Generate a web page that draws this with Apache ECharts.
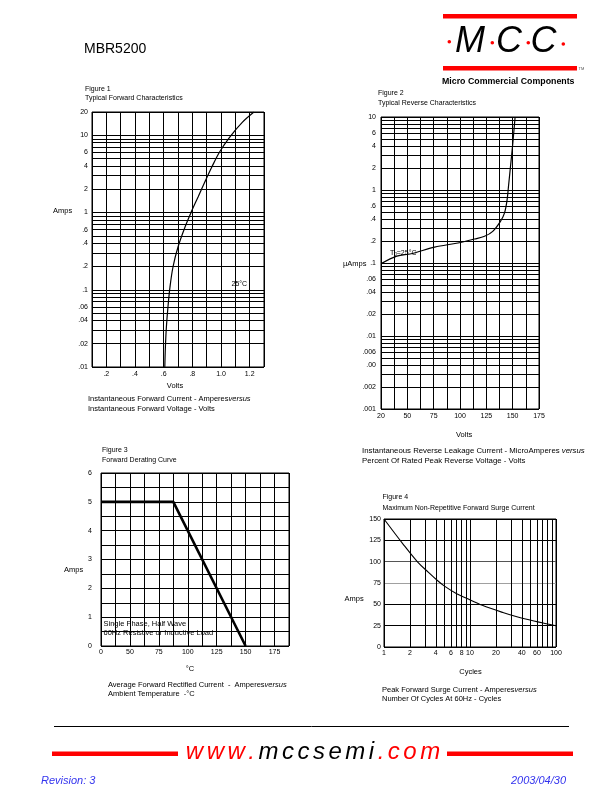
<!DOCTYPE html>
<html><head><meta charset="utf-8">
<script src="https://cdn.jsdelivr.net/npm/echarts@6/dist/echarts.min.js"></script>
<style>html,body{margin:0;padding:0;background:#fff;}#c{width:612px;height:792px;}</style>
</head><body><div id="c"></div>
<script>
// ---------- Figure 1 : Typical Forward Characteristics ----------
const fig1Volts = [0.608, 0.612, 0.619, 0.630, 0.644, 0.665, 0.700, 0.749, 0.793, 0.840, 0.887, 0.936, 0.990, 1.061, 1.150, 1.230];
const fig1Amps  = [0.01, 0.018, 0.033, 0.06, 0.108, 0.197, 0.358, 0.649, 1.02, 1.59, 2.48, 3.88, 6.07, 9.49, 14.8, 20];
const fig1XLabelValues = [0.2, 0.4, 0.6, 0.8, 1.0, 1.2];
const fig1XLabels = ['.2', '.4', '.6', '.8', '1.0', '1.2'];
const fig1YGrid = [0.01,0.02,0.03,0.04,0.05,0.06,0.07,0.08,0.09,0.1,0.2,0.3,0.4,0.5,0.6,0.7,0.8,0.9,1,2,3,4,5,6,7,8,9,10,20];
const fig1YLabelValues = [0.01,0.02,0.04,0.06,0.1,0.2,0.4,0.6,1,2,4,6,10,20];
const fig1YLabels = ['.01','.02','.04','.06','.1','.2','.4','.6','1','2','4','6','10','20'];

// ---------- Figure 2 : Typical Reverse Characteristics ----------
const fig2Percent    = [25.3, 40, 53.7, 75.9, 98, 113.8, 123.3, 131.1, 138.4, 142.2, 144.7, 146, 147.9, 150.1, 152.3];
const fig2MicroAmps  = [0.098, 0.124, 0.134, 0.165, 0.188, 0.213, 0.232, 0.271, 0.371, 0.482, 0.731, 1.11, 2.07, 4.32, 9.94];
const fig2XLabelValues = [25, 50, 75, 100, 125, 150, 175];
const fig2XLabels = ['20', '50', '75', '100', '125', '150', '175'];
const fig2YGrid = [0.001,0.002,0.003,0.004,0.005,0.006,0.007,0.008,0.009,0.01,0.02,0.03,0.04,0.05,0.06,0.07,0.08,0.09,0.1,0.2,0.3,0.4,0.5,0.6,0.7,0.8,0.9,1,2,3,4,5,6,7,8,9,10];
const fig2YLabelValues = [0.001,0.002,0.004,0.006,0.01,0.02,0.04,0.06,0.1,0.2,0.4,0.6,1,2,4,6,10];
const fig2YLabels = ['.001','.002','.00','.006','.01','.02','.04','.06','.1','.2','.4','.6','1','2','4','6','10'];

// ---------- Figure 3 : Forward Derating Curve ----------
const fig3Temp = [25, 87.5, 150];
const fig3Amps = [5, 5, 0];
const fig3XLabelValues = [25, 50, 75, 100, 125, 150, 175];
const fig3XLabels = ['0', '50', '75', '100', '125', '150', '175'];
const fig3YLabelValues = [0, 1, 2, 3, 4, 5, 6];

// ---------- Figure 4 : Maximum Non-Repetitive Forward Surge Current ----------
const fig4Cycles = [1, 1.64, 2.45, 3.29, 4.18, 5.05, 7.0, 9.0, 13.9, 24.1, 35.1, 55.4, 77.2, 100];
const fig4Amps   = [150, 121.5, 99.8, 87.5, 77.9, 71.3, 62.4, 57.4, 48.9, 40.4, 35.4, 30.4, 27.3, 25];
const fig4XGrid = [1,2,3,4,5,6,7,8,9,10,20,30,40,50,60,70,80,90,100];
const fig4XLabelValues = [1, 2, 4, 6, 8, 10, 20, 40, 60, 80, 100];
const fig4XLabels = ['1', '2', '4', '6', '8', '10', '20', '40', '60', '80', '100'];

const FF = '"Liberation Sans", Arial, Helvetica, sans-serif';
const LBL = { fontSize: 7, fontFamily: FF, color: '#000' };
const GRIDLINE = { show: true, lineStyle: { color: '#000', width: 1, type: 'solid' } };

function lookup(values, texts) {
  return function (v) {
    for (let i = 0; i < values.length; i++) {
      if (Math.abs(values[i] - v) <= Math.abs(values[i]) * 1e-5 + 1e-12) return texts ? texts[i] : String(values[i]);
    }
    return '';
  };
}
function zip(a, b) { return a.map((v, i) => [v, b[i]]); }

function T(text, x, y, size, style, el) {
  return Object.assign({
    type: 'text', x: x, y: y, silent: true,
    style: Object.assign({ text: text, font: size + 'px ' + FF, fill: '#000', align: 'left', verticalAlign: 'middle' }, style || {})
  }, el || {});
}
function cap(main, size) {
  return {
    text: '{a|' + main + '}{b|versus}',
    rich: {
      a: { fontSize: size, fontFamily: FF, fill: '#000', color: '#000' },
      b: { fontSize: size, fontFamily: FF, fontStyle: 'italic', fill: '#000', color: '#000' }
    }
  };
}

const gridBase = { show: true, borderColor: '#000', borderWidth: 1, backgroundColor: 'transparent', containLabel: false };

const xAxes = [
  { gridIndex: 0, type: 'value', min: 0.1, max: 1.3, interval: 0.1,
    axisLine: { show: false }, axisTick: { show: false }, splitLine: GRIDLINE,
    axisLabel: Object.assign({ customValues: fig1XLabelValues, formatter: lookup(fig1XLabelValues, fig1XLabels), margin: 4 }, LBL) },
  { gridIndex: 1, type: 'value', min: 25, max: 175, interval: 12.5,
    axisLine: { show: false }, axisTick: { show: false }, splitLine: GRIDLINE,
    axisLabel: Object.assign({ customValues: fig2XLabelValues, formatter: lookup(fig2XLabelValues, fig2XLabels), margin: 4 }, LBL) },
  { gridIndex: 2, type: 'value', min: 25, max: 187.5, interval: 12.5,
    axisLine: { show: false }, axisTick: { show: false }, splitLine: GRIDLINE,
    axisLabel: Object.assign({ customValues: fig3XLabelValues, formatter: lookup(fig3XLabelValues, fig3XLabels), margin: 3 }, LBL) },
  { gridIndex: 3, type: 'log', logBase: 10, min: 1, max: 100.0001,
    axisLine: { show: false }, axisTick: { show: false, customValues: fig4XGrid }, splitLine: GRIDLINE,
    axisLabel: Object.assign({ customValues: fig4XLabelValues, formatter: lookup(fig4XLabelValues, fig4XLabels), margin: 3, showMaxLabel: true }, LBL) }
];
const yAxes = [
  { gridIndex: 0, type: 'log', logBase: 10, min: 0.01, max: 20,
    axisLine: { show: false }, axisTick: { show: false, customValues: fig1YGrid }, splitLine: GRIDLINE,
    axisLabel: Object.assign({ customValues: fig1YLabelValues, formatter: lookup(fig1YLabelValues, fig1YLabels), margin: 4 }, LBL) },
  { gridIndex: 1, type: 'log', logBase: 10, min: 0.001, max: 10,
    axisLine: { show: false }, axisTick: { show: false, customValues: fig2YGrid }, splitLine: GRIDLINE,
    axisLabel: Object.assign({ customValues: fig2YLabelValues, formatter: lookup(fig2YLabelValues, fig2YLabels), margin: 5 }, LBL) },
  { gridIndex: 2, type: 'value', min: 0, max: 6, interval: 0.5,
    axisLine: { show: false }, axisTick: { show: false }, splitLine: GRIDLINE,
    axisLabel: Object.assign({ customValues: fig3YLabelValues, formatter: lookup(fig3YLabelValues), margin: 9 }, LBL) },
  { gridIndex: 3, type: 'value', min: 0, max: 150, interval: 25,
    axisLine: { show: false }, axisTick: { show: false },
    splitLine: { show: true, lineStyle: { color: ['#000', '#000', '#000', '#a0a0a0', '#555', '#000', '#000'], width: 1 } },
    axisLabel: Object.assign({ margin: 3 }, LBL) }
];

function lineSeries(idx, data, width, smooth) {
  return {
    type: 'line', xAxisIndex: idx, yAxisIndex: idx, data: data,
    smooth: smooth, symbol: 'none', showSymbol: false, silent: true,
    lineStyle: { color: '#000', width: width }, z: 5
  };
}

// ---------- page furniture ----------
const graphics = [];
// header
graphics.push(T('MBR5200', 84, 49, 14));
graphics.push({ type: 'rect', silent: true, shape: { x: 443, y: 14, width: 134, height: 4.5 }, style: { fill: '#ff0000' } });
graphics.push({ type: 'rect', silent: true, shape: { x: 443, y: 66, width: 134, height: 4.5 }, style: { fill: '#ff0000' } });
[['M', 470], ['C', 509], ['C', 543.5]].forEach(p => {
  graphics.push(T(p[0], p[1], 42, 36, { font: 'italic 36px ' + FF, align: 'center' }));
});
[[449.3, 41.7], [492.3, 42.7], [528.3, 42.7], [563.3, 44]].forEach(p => {
  graphics.push({ type: 'circle', silent: true, shape: { cx: p[0], cy: p[1], r: 1.8 }, style: { fill: '#ff0000' } });
});
graphics.push(T('TM', 578.5, 69, 4, { fill: '#555' }));
graphics.push(T('Micro Commercial Components', 442, 82, 8.8, { font: 'bold 8.8px ' + FF }));

// figure 1 texts
graphics.push(T('Figure 1', 85, 89, 7));
graphics.push(T('Typical Forward Characteristics', 85, 98.5, 7));
graphics.push(T('Amps', 53, 210.5, 7.5));
graphics.push(T('25°C', 231.5, 284, 7));
graphics.push(T('Volts', 175, 385.5, 7.5, { align: 'center' }));
graphics.push(T('', 88, 398.5, 7.5, cap('Instantaneous Forward Current - Amperes', 7.5)));
graphics.push(T('Instantaneous Forward Voltage - Volts', 88, 408.5, 7.5));

// figure 2 texts
graphics.push(T('Figure 2', 378, 93, 7));
graphics.push(T('Typical Reverse Characteristics', 378, 103, 7));
graphics.push(T('µAmps', 343, 264, 7.5));
graphics.push(T('', 390, 253.5, 7, {
  text: '{a|T}{s|J}{a|=25°C}',
  rich: { a: { fontSize: 7, fontFamily: FF, color: '#000' }, s: { fontSize: 5, fontFamily: FF, color: '#000', padding: [3, 0, 0, 0] } }
}));
graphics.push(T('Volts', 456, 434.5, 7.5));
graphics.push(T('', 362, 450.5, 7.8, cap('Instantaneous Reverse Leakage Current - MicroAmperes ', 7.8)));
graphics.push(T('Percent Of Rated Peak Reverse Voltage - Volts', 362, 460.5, 7.8));

// figure 3 texts
graphics.push(T('Figure 3', 102, 450.5, 7));
graphics.push(T('Forward Derating Curve', 102, 460.5, 7));
graphics.push(T('Amps', 64, 569.5, 7.5));
graphics.push(T('Single Phase, Half Wave', 103.5, 624, 7.5, null, { z: -1 }));
graphics.push(T('60Hz Resistive or Inductive Load', 103.5, 633, 7.5, null, { z: -1 }));
graphics.push(T('°C', 190, 669, 7.5, { align: 'center' }));
graphics.push(T('', 108, 684.5, 7.5, cap('Average Forward Rectified Current  -  Amperes', 7.5)));
graphics.push(T('Ambient Temperature  -°C', 108, 694, 7.5));

// figure 4 texts
graphics.push(T('Figure 4', 382.5, 497.5, 7));
graphics.push(T('Maximum Non-Repetitive Forward Surge Current', 382.5, 508, 7));
graphics.push(T('Amps', 344.5, 598.5, 7.5));
graphics.push(T('Cycles', 470.5, 671.5, 7.5, { align: 'center' }));
graphics.push(T('', 382, 689.5, 7.5, cap('Peak Forward Surge Current - Amperes', 7.5)));
graphics.push(T('Number Of Cycles At 60Hz - Cycles', 382, 698.5, 7.5));

// footer
graphics.push({ type: 'line', silent: true, shape: { x1: 54, y1: 726.5, x2: 569, y2: 726.5 }, style: { stroke: '#000', lineWidth: 1 } });
graphics.push({ type: 'rect', silent: true, shape: { x: 52, y: 751.5, width: 126, height: 4.5 }, style: { fill: '#ff0000' } });
graphics.push({ type: 'rect', silent: true, shape: { x: 447, y: 751.5, width: 126, height: 4.5 }, style: { fill: '#ff0000' } });
(function () {
  const url = 'www.mccsemi.com';
  const font = 'italic 24px ' + FF;
  const ctx = document.createElement('canvas').getContext('2d');
  ctx.font = font;
  const spacing = 3.5;
  const widths = url.split('').map(ch => ctx.measureText(ch).width);
  const total = widths.reduce((s, w) => s + w, 0) + spacing * (url.length - 1);
  let x = 313 - total / 2;
  url.split('').forEach((ch, i) => {
    const red = i < 4 || i >= 11;
    graphics.push(T(ch, x, 752, 24, { font: font, fill: red ? '#ff0000' : '#000' }));
    x += widths[i] + spacing;
  });
})();
graphics.push(T('Revision: 3', 41, 781, 11, { font: 'italic 11px ' + FF, fill: '#3333ee' }));
graphics.push(T('2003/04/30', 566, 781, 11, { font: 'italic 11px ' + FF, fill: '#3333ee', align: 'right' }));

const chart = echarts.init(document.getElementById('c'), null, { renderer: 'canvas', width: 612, height: 792 });
chart.setOption({
  animation: false,
  backgroundColor: '#fff',
  grid: [
    Object.assign({ left: 92, top: 112, width: 172, height: 255 }, gridBase),
    Object.assign({ left: 381, top: 117, width: 158, height: 292 }, gridBase),
    Object.assign({ left: 101, top: 473, width: 188, height: 173 }, gridBase),
    Object.assign({ left: 384, top: 519, width: 172, height: 128 }, gridBase)
  ],
  xAxis: xAxes,
  yAxis: yAxes,
  series: [
    lineSeries(0, zip(fig1Volts, fig1Amps), 1.2, 0.35),
    lineSeries(1, zip(fig2Percent, fig2MicroAmps), 1.2, 0.35),
    lineSeries(2, zip(fig3Temp, fig3Amps), 2.6, false),
    lineSeries(3, zip(fig4Cycles, fig4Amps), 1.1, 0.35)
  ],
  graphic: { elements: graphics }
});
</script>
</body></html>
